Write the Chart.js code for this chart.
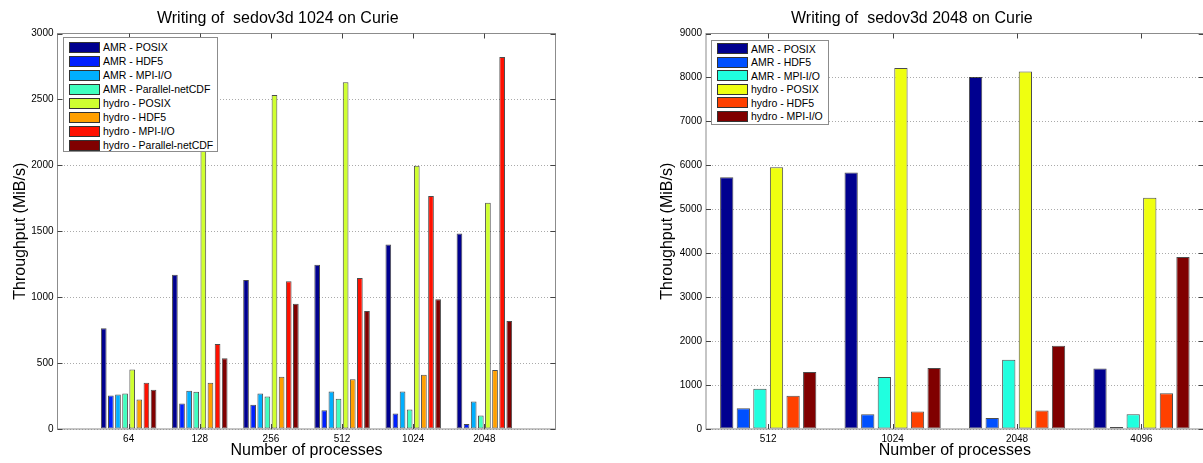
<!DOCTYPE html>
<html>
<head>
<meta charset="utf-8">
<script src="https://cdn.jsdelivr.net/npm/chart.js@4/dist/chart.umd.min.js"></script>
<style>
  html, body { margin: 0; padding: 0; background: #fff; overflow: hidden; }
  #wrap { position: relative; width: 1203px; height: 463px; overflow: hidden; }
  .pane { position: absolute; top: 0; }
  .legend { position: absolute; background: #fff; border: 1px solid #8c8c8c; box-sizing: border-box;
            font: 10.5px "Liberation Sans", Arial, sans-serif; color: #000; }
  .lg-row { display: flex; align-items: center; white-space: pre; }
  .sw { display: inline-block; width: 29px; height: 9px; border: 1px solid #333; margin-right: 3px; }
</style>
</head>
<body>
<div id="wrap">
  <div class="pane" style="left:0"><canvas id="c1" width="614" height="463"></canvas></div>
  <div class="pane" style="left:620px"><canvas id="c2" width="670" height="463"></canvas></div>
  <div class="legend" id="lg1" style="left:63px;top:37px;width:155px;height:115px;padding:2px 0 0 5px"></div>
  <div class="legend" id="lg2" style="left:711px;top:40px;width:118px;height:85px;padding:1px 0 0 5px"></div>
</div>
<script>
// ---- left chart: sedov3d 1024 ----
const procs1 = ["64", "128", "256", "512", "1024", "2048"];
const names1 = ["AMR - POSIX", "AMR - HDF5", "AMR - MPI-I/O", "AMR - Parallel-netCDF",
                "hydro - POSIX", "hydro - HDF5", "hydro - MPI-I/O", "hydro - Parallel-netCDF"];
const colors1 = ["#00008F", "#0020FF", "#00AFFF", "#40FFBF", "#CFFF30", "#FF9F00", "#FF1000", "#800000"];
const amrPosix1     = [765, 1170, 1130, 1245, 1400, 1482];
const amrHdf51      = [255, 193, 183, 143, 117, 38];
const amrMpiio1     = [262, 290, 270, 285, 285, 209];
const amrPnetcdf1   = [270, 283, 247, 229, 148, 102];
const hydroPosix1   = [451, 2450, 2533, 2630, 1996, 1716];
const hydroHdf51    = [224, 351, 397, 377, 412, 448];
const hydroMpiio1   = [351, 644, 1120, 1146, 1767, 2821];
const hydroPnetcdf1 = [298, 537, 950, 896, 985, 820];
const series1 = [amrPosix1, amrHdf51, amrMpiio1, amrPnetcdf1, hydroPosix1, hydroHdf51, hydroMpiio1, hydroPnetcdf1];

// ---- right chart: sedov3d 2048 ----
const procs2 = ["512", "1024", "2048", "4096"];
const names2 = ["AMR - POSIX", "AMR - HDF5", "AMR - MPI-I/O", "hydro - POSIX", "hydro - HDF5", "hydro - MPI-I/O"];
const colors2 = ["#00008F", "#0050FF", "#20FFDF", "#EFFF10", "#FF4000", "#800000"];
const amrPosix2   = [5730, 5836, 8008, 1379];
const amrHdf52    = [472, 335, 251, 46];
const amrMpiio2   = [914, 1181, 1577, 335];
const hydroPosix2 = [5958, 8213, 8137, 5265];
const hydroHdf52  = [754, 396, 419, 815];
const hydroMpiio2 = [1295, 1387, 1897, 3916];
const series2 = [amrPosix2, amrHdf52, amrMpiio2, hydroPosix2, hydroHdf52, hydroMpiio2];

const FONT = "'Liberation Sans', Arial, sans-serif";
Chart.defaults.font.family = FONT;
Chart.defaults.color = "#000";

// matlab-like box with inward tick marks
const boxPlugin = {
  id: "box",
  afterDraw(chart) {
    const { ctx, chartArea: a, scales: { x, y } } = chart;
    ctx.save();
    ctx.strokeStyle = "#8c8c8c";
    ctx.lineWidth = 1;
    ctx.strokeRect(a.left, a.top, a.right - a.left, a.bottom - a.top);
    ctx.strokeStyle = "#444";
    ctx.beginPath();
    x.ticks.forEach((t, i) => {
      if (!t.label) return;
      const px = Math.round(x.getPixelForTick(i)) + 0.5;
      ctx.moveTo(px, a.top); ctx.lineTo(px, a.top + 5);
      ctx.moveTo(px, a.bottom); ctx.lineTo(px, a.bottom - 5);
    });
    y.ticks.forEach((t, i) => {
      const py = Math.round(y.getPixelForTick(i)) + 0.5;
      ctx.moveTo(a.left, py); ctx.lineTo(a.left + 5, py);
      ctx.moveTo(a.right, py); ctx.lineTo(a.right - 5, py);
    });
    ctx.stroke();
    ctx.restore();
  }
};

function yScale(max, step, w, titlePad) {
  return {
    min: 0, max: max,
    ticks: { stepSize: step, padding: 4, font: { size: 10 }, callback: (v) => String(v) },
    grid: { color: "#aaa", drawTicks: false },
    border: { display: false, dash: [1, 2] },
    title: { display: true, text: "Throughput (MiB/s)", font: { size: 16 }, padding: { top: titlePad, bottom: 0 } },
    afterFit: (s) => { s.width = w; }
  };
}
const xTitle = { display: true, text: "Number of processes", font: { size: 16 }, padding: { top: 0, bottom: 2.4 } };

function opts(title, xs, ys, padRight) {
  return {
    responsive: false, animation: false,
    layout: { padding: { left: 0, right: padRight, top: 0, bottom: 0 } },
    plugins: {
      legend: { display: false }, tooltip: { enabled: false },
      title: { display: true, text: title, color: "#000", font: { size: 16, weight: "normal" }, padding: { top: 9.4, bottom: 4.9 } }
    },
    scales: { x: xs, y: ys }
  };
}

const ds = (names, colors, series, mk) => names.map((n, i) => ({
  label: n, data: mk(series[i]), backgroundColor: colors[i],
  borderColor: "rgba(0,0,0,0.7)", borderWidth: 1, borderSkipped: false,
  categoryPercentage: 0.8, barPercentage: 0.8
}));

// left: linear x from 0 to 7, groups at 1..6
new Chart(document.getElementById("c1"), {
  type: "bar",
  data: { datasets: ds(names1, colors1, series1, (v) => v.map((y, i) => ({ x: i + 1, y }))) },
  options: opts("Writing of  sedov3d 1024 on Curie",
    { type: "linear", min: 0, max: 7, offset: false,
      ticks: { stepSize: 1, padding: 4, font: { size: 10 }, callback: (v) => procs1[v - 1] || "" },
      grid: { display: false, drawTicks: false }, border: { display: false },
      title: xTitle, afterFit: (s) => { s.height = 34; } },
    yScale(3000, 500, 57.5, 11.4), 58.5),
  plugins: [boxPlugin]
});

// right: categories
new Chart(document.getElementById("c2"), {
  type: "bar",
  data: { labels: procs2, datasets: ds(names2, colors2, series2, (v) => v) },
  options: opts("Writing of  sedov3d 2048 on Curie",
    { ticks: { padding: 4, font: { size: 10 } },
      grid: { display: false, drawTicks: false }, border: { display: false },
      title: xTitle, afterFit: (s) => { s.height = 34; } },
    yScale(9000, 1000, 86, 38.4), 86.3),
  plugins: [boxPlugin]
});

function makeLegend(id, names, colors, rowH) {
  const el = document.getElementById(id);
  names.forEach((n, i) => {
    const row = document.createElement("div");
    row.className = "lg-row";
    row.style.height = rowH + "px";
    const sw = document.createElement("span");
    sw.className = "sw";
    sw.style.background = colors[i];
    row.appendChild(sw);
    row.appendChild(document.createTextNode(n));
    el.appendChild(row);
  });
}
makeLegend("lg1", names1, colors1, 14);
makeLegend("lg2", names2, colors2, 13.5);
</script>
</body>
</html>
